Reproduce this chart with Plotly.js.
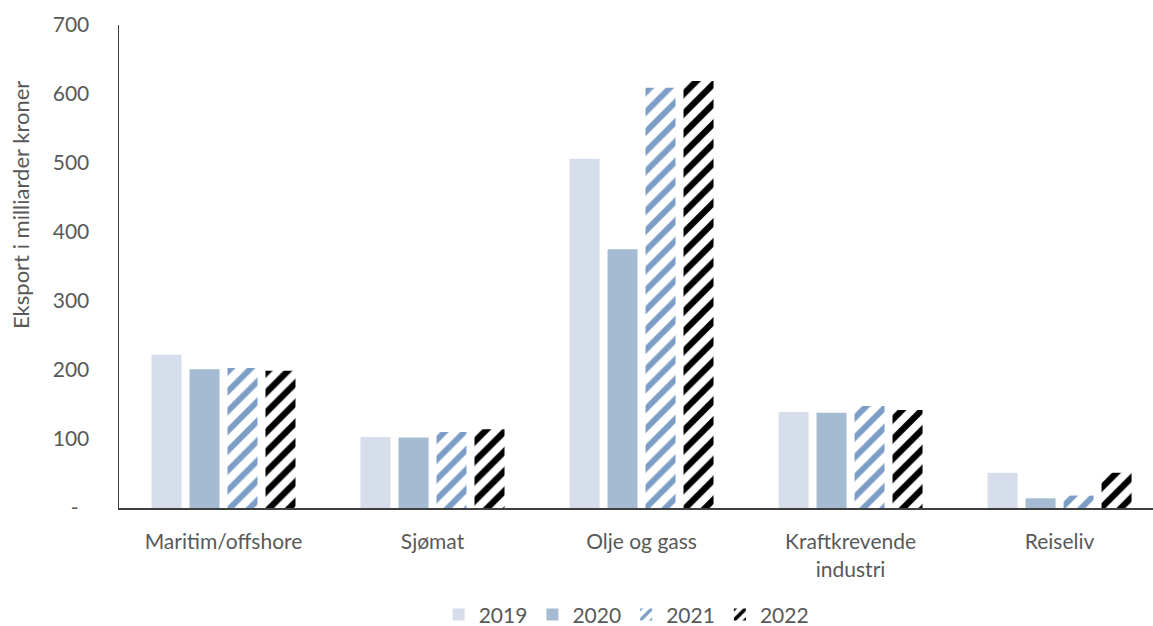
<!DOCTYPE html>
<html>
<head>
<meta charset="utf-8">
<script src="https://cdn.plot.ly/plotly-3.0.1.min.js"></script>
<style>
html,body{margin:0;padding:0;background:#fff;}
#chart{width:1153px;height:626px;}
</style>
</head>
<body>
<div id="chart"></div>
<script>
const categories = ["Maritim/offshore", "Sjømat", "Olje og gass", "Kraftkrevende<br>industri", "Reiseliv"];
const years = ["2019", "2020", "2021", "2022"];
const v2019 = [222, 103, 506, 139, 51];
const v2020 = [201, 102, 375, 138, 14];
const v2021 = [203, 110, 609, 148, 18];
const v2022 = [199, 114, 619, 142, 51];
const yTickVals = [0, 100, 200, 300, 400, 500, 600, 700];
const yTickText = ["-\u00a0\u00a0", "100", "200", "300", "400", "500", "600", "700"];
const yTitle = "Eksport i milliarder kroner";

const FONT = "Lato, 'Open Sans', sans-serif";
const TXT = "#595959";

const series = [v2019, v2020, v2021, v2022];
const styles = [
  {color: "#d5deea"},
  {color: "#a5bbd2"},
  {color: "#ffffff", pattern: {shape: "/", fgcolor: "#7b9dc6", bgcolor: "#ffffff", size: 14, solidity: 0.42, fillmode: "replace"}},
  {color: "#ffffff", pattern: {shape: "/", fgcolor: "#000000", bgcolor: "#ffffff", size: 14, solidity: 0.45, fillmode: "replace"}}
];

const traces = series.map((vals, i) => ({
  type: "bar",
  name: years[i],
  x: categories,
  y: vals,
  marker: Object.assign({line: {width: 0}}, styles[i]),
  hoverinfo: "x+y+name"
}));

const layout = {
  width: 1153,
  height: 626,
  margin: {l: 119, r: 0, t: 25, b: 118},
  paper_bgcolor: "#ffffff",
  plot_bgcolor: "#ffffff",
  font: {family: FONT, size: 21, color: TXT},
  barmode: "group",
  bargap: 0.273,
  bargroupgap: 0.21,
  showlegend: true,
  legend: {
    orientation: "h",
    x: 0.4905, xanchor: "center", xref: "paper",
    y: 0.018, yanchor: "middle", yref: "container",
    font: {family: FONT, size: 21, color: TXT},
    traceorder: "normal",
    itemwidth: 30
  },
  xaxis: {
    type: "category",
    range: [-0.5, 4.447],
    showline: true,
    linecolor: "#3f3f3f",
    linewidth: 2,
    ticks: "",
    showgrid: false,
    zeroline: false,
    ticklabelstandoff: 14,
    tickfont: {family: FONT, size: 21, color: TXT},
    fixedrange: true
  },
  yaxis: {
    range: [0, 700],
    tickmode: "array",
    tickvals: yTickVals,
    ticktext: yTickText,
    showline: true,
    linecolor: "#3f3f3f",
    linewidth: 1.5,
    ticks: "",
    showgrid: false,
    zeroline: false,
    ticklabelstandoff: 24,
    tickfont: {family: FONT, size: 21, color: TXT},
    fixedrange: true
  },
  annotations: [{
    text: yTitle,
    xref: "paper", yref: "paper",
    x: (20 - 119) / 1034, y: (508 - 205) / 483,
    xanchor: "center", yanchor: "middle",
    textangle: -90,
    showarrow: false,
    font: {family: FONT, size: 22, color: TXT}
  }]
};

Plotly.newPlot("chart", traces, layout, {displayModeBar: false, staticPlot: true});
</script>
</body>
</html>
